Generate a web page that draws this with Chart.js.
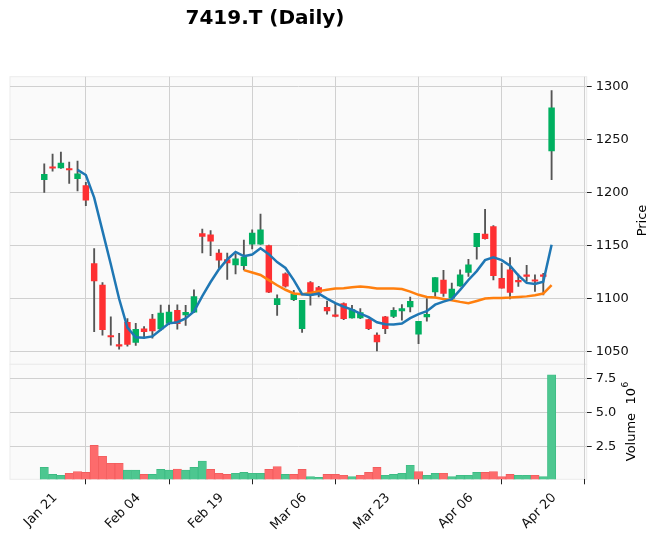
<!DOCTYPE html>
<html>
<head>
<meta charset="utf-8">
<script src="https://cdn.jsdelivr.net/npm/chart.js@4.4.0/dist/chart.umd.min.js"></script>
<style>
  html, body { margin: 0; padding: 0; background: #fff; }
  #wrap { position: relative; width: 660px; height: 543px; }
</style>
</head>
<body>
<div id="wrap"><canvas id="priceChart" width="660" height="543"></canvas></div>
<script>
// 7419.T daily, 62 sessions; x ticks every 10 bars
var tickIndex = [0, 10, 20, 30, 40, 50, 60];
var tickLabels = ['Jan 21', 'Feb 04', 'Feb 19', 'Mar 06', 'Mar 23', 'Apr 06', 'Apr 20'];

var opens = [1212, 1224.1, 1223, 1222.5, 1213, 1206.5, 1133, 1112.6, 1065.1, 1056.5,
  1077.5, 1058.5, 1071.3, 1080.6, 1071.3, 1076.5, 1088.8, 1084.4, 1087.2, 1161.1,
  1160.1, 1142.9, 1136.7, 1131.7, 1131, 1151.1, 1151.1, 1149.8, 1094.1, 1123.2,
  1098.8, 1071.6, 1115, 1110.3, 1091.7, 1084.6, 1095.1, 1081.7, 1081.7, 1080.1,
  1065.4, 1082.6, 1083.2, 1088.2, 1092, 1066.3, 1082.6, 1106.1, 1117.3, 1100.3,
  1111.9, 1124.5, 1148.9, 1160.8, 1167.7, 1119.1, 1127, 1117, 1122.3, 1117.6,
  1122.3, 1239];
var highs = [1227, 1236, 1238, 1228.5, 1229.6, 1209.5, 1147, 1115, 1082.7, 1067.2,
  1081, 1076.5, 1073.5, 1085, 1093.7, 1093.7, 1094, 1093.5, 1108.2, 1165.5,
  1163.9, 1146.1, 1142.9, 1142, 1155.1, 1164.8, 1179.5, 1150.3, 1103.5, 1124.2,
  1107.6, 1098.2, 1116, 1111.5, 1097.6, 1095.1, 1095.8, 1093.6, 1090.4, 1080.5,
  1067.6, 1083.2, 1091.4, 1094.2, 1101.4, 1078.5, 1099.8, 1119.6, 1126.5, 1114.4,
  1127, 1137, 1161.4, 1184, 1168.7, 1133.2, 1138.6, 1122.9, 1131.3, 1122.3,
  1123.8, 1296];
var lows = [1200, 1220, 1222.5, 1208.5, 1201.4, 1187.5, 1068.7, 1065.5, 1056, 1052.2,
  1055, 1055.8, 1062.5, 1062.5, 1070, 1075.3, 1071, 1074.7, 1086.6, 1142.9,
  1140.4, 1128.8, 1117.9, 1123.2, 1127, 1146.7, 1151, 1105.4, 1084.1, 1110.7,
  1098, 1068, 1093.6, 1101.4, 1085.1, 1082.6, 1080.1, 1081.5, 1081, 1070.7,
  1050.6, 1066.9, 1082, 1079.5, 1087.3, 1057.5, 1078.5, 1102, 1102, 1098,
  1111.3, 1120.7, 1137, 1155.8, 1117.6, 1109.7, 1099.7, 1111.3, 1116, 1106.6,
  1103.4, 1212];
var closes = [1217, 1222.8, 1227.5, 1221.1, 1217.5, 1192.7, 1116.6, 1070.5, 1063.7, 1055.1,
  1056.8, 1071, 1068.8, 1069.5, 1086.3, 1087.2, 1076.3, 1086.9, 1101.9, 1158.6,
  1153.9, 1136, 1133.5, 1137.3, 1138.9, 1161.7, 1164.8, 1106, 1099.8, 1111.6,
  1104.4, 1098.2, 1102.8, 1105.8, 1088.2, 1083.2, 1081, 1089.5, 1086.7, 1071.6,
  1059.1, 1071.6, 1088.9, 1090.4, 1097.3, 1078.5, 1085.1, 1119.6, 1104.8, 1108.8,
  1122.3, 1131.7, 1161.4, 1156.4, 1121.6, 1109.7, 1105.6, 1115.6, 1120.9, 1116.2,
  1120.9, 1279.6];
// volume in millions of shares
var volumes = [0.94, 0.42, 0.35, 0.50, 0.64, 0.57, 2.57, 1.76, 1.24, 1.24,
  0.74, 0.74, 0.42, 0.42, 0.79, 0.74, 0.82, 0.74, 0.94, 1.41,
  0.79, 0.50, 0.42, 0.50, 0.57, 0.50, 0.50, 0.79, 1.01, 0.42,
  0.42, 0.79, 0.27, 0.20, 0.42, 0.42, 0.35, 0.27, 0.35, 0.57,
  0.94, 0.35, 0.42, 0.50, 1.09, 0.64, 0.35, 0.50, 0.50, 0.27,
  0.35, 0.35, 0.57, 0.57, 0.64, 0.27, 0.42, 0.35, 0.35, 0.35,
  0.27, 7.80];
var priceTicks = [1050, 1100, 1150, 1200, 1250, 1300];
var volumeTicks = [2.5, 5.0, 7.5];

var UP = '#00b060', DOWN = '#fe3032', WICK = '#555555';
var VOL_UP = '#4dc790', VOL_DOWN = '#fd6b6c';
var FONT = 'DejaVu Sans';

function movingAverage(values, n) {
  var out = [];
  for (var i = n - 1; i < values.length; i++) {
    var sum = 0;
    for (var j = i - n + 1; j <= i; j++) sum += values[j];
    out.push({x: i, y: sum / n});
  }
  return out;
}

var wickData = highs.map(function (h, i) { return {x: i, y: [lows[i], h]}; });
var bodyData = opens.map(function (o, i) { return {x: i, y: [o, closes[i]]}; });
var bodyColors = opens.map(function (o, i) { return closes[i] >= o ? UP : DOWN; });
var volData = volumes.map(function (v, i) { return {x: i, y: v}; });
var volUp = closes.map(function (c, i) { return i === 0 || c >= closes[i - 1]; });
var volColors = volUp.map(function (u) { return u ? VOL_UP : VOL_DOWN; });
var volEdges = volUp.map(function (u) { return u ? '#3dbb83' : '#f25c5d'; });

// panel backgrounds
var panelPlugin = {
  id: 'panels',
  beforeDraw: function (chart) {
    var ctx = chart.ctx, a = chart.chartArea;
    [chart.scales.y, chart.scales.vol].forEach(function (s) {
      ctx.save();
      ctx.fillStyle = '#fafafa';
      ctx.fillRect(a.left, s.top, a.right - a.left, s.bottom - s.top);
      ctx.strokeStyle = '#ebebeb';
      ctx.lineWidth = 1;
      ctx.strokeRect(a.left, s.top, a.right - a.left, s.bottom - s.top);
      ctx.restore();
    });
  }
};

// title and rotated axis labels
var textPlugin = {
  id: 'texts',
  afterDraw: function (chart) {
    var ctx = chart.ctx;
    var ys = chart.scales.y, vs = chart.scales.vol;
    ctx.save();
    ctx.fillStyle = '#000';
    ctx.textAlign = 'center';
    ctx.textBaseline = 'middle';
    ctx.font = 'bold 20px ' + FONT;
    ctx.fillText('7419.T (Daily)', 265, 19);

    ctx.font = '13px ' + FONT;
    ctx.save();
    ctx.translate(642.8, (ys.top + ys.bottom) / 2);
    ctx.rotate(-Math.PI / 2);
    ctx.fillText('Price', 0, 0);
    ctx.restore();

    ctx.save();
    ctx.translate(632, (vs.top + vs.bottom) / 2);
    ctx.rotate(-Math.PI / 2);
    var main = 'Volume  10';
    var w1 = ctx.measureText(main).width;
    ctx.font = '9px ' + FONT;
    var w2 = ctx.measureText('6').width;
    var x0 = -(w1 + w2) / 2;
    ctx.textAlign = 'left';
    ctx.font = '13px ' + FONT;
    ctx.fillText(main, x0, 0);
    ctx.font = '9px ' + FONT;
    ctx.fillText('6', x0 + w1 + 0.5, -6);
    ctx.restore();
    ctx.restore();
  }
};

var ctx = document.getElementById('priceChart');
var myChart = new Chart(ctx, {
  type: 'bar',
  data: {
    datasets: [{
        label: 'Wick',
        data: wickData,
        backgroundColor: WICK,
        barThickness: 1.2,
        grouped: false,
        yAxisID: 'y',
        order: 3
      },
      {
        label: 'Body',
        data: bodyData,
        backgroundColor: bodyColors,
        barThickness: 5.8,
        grouped: false,
        yAxisID: 'y',
        order: 2
      },
      {
        type: 'line',
        label: 'MA5',
        data: movingAverage(closes, 5),
        borderColor: '#1f77b4',
        borderWidth: 2.5,
        pointRadius: 0,
        tension: 0,
        yAxisID: 'y',
        order: 1
      },
      {
        type: 'line',
        label: 'MA25',
        data: movingAverage(closes, 25),
        borderColor: '#ff7f0e',
        borderWidth: 2.5,
        pointRadius: 0,
        tension: 0,
        yAxisID: 'y',
        order: 1
      },
      {
        label: 'Volume',
        data: volData,
        backgroundColor: volColors,
        borderColor: volEdges,
        borderWidth: 0.8,
        barThickness: 8.3,
        grouped: false,
        yAxisID: 'vol',
        order: 4
      }
    ]
  },
  options: {
    responsive: false,
    animation: false,
    layout: {padding: {left: 10, top: 76.7, right: 0, bottom: 0}},
    scales: {
      x: {
        type: 'linear',
        min: -4.12,
        max: 65.22,
        offset: false,
        border: {display: false},
        grid: {color: '#d0d0d0', tickColor: '#222', tickLength: 5},
        afterBuildTicks: function (scale) {
          scale.ticks = tickIndex.map(function (v) { return {value: v}; });
        },
        afterFit: function (scale) { scale.height = 63.7; },
        ticks: {
          autoSkip: false,
          maxRotation: 45,
          minRotation: 45,
          padding: 6,
          labelOffset: 11,
          color: '#111',
          font: {family: FONT, size: 13},
          callback: function (v) { return tickLabels[tickIndex.indexOf(v)]; }
        }
      },
      y: {
        type: 'linear',
        position: 'right',
        stack: 'panels',
        stackWeight: 5,
        min: 1038,
        max: 1309,
        border: {display: false},
        grid: {color: '#d0d0d0', tickColor: '#222', tickLength: 5},
        afterBuildTicks: function (scale) {
          scale.ticks = priceTicks.map(function (v) { return {value: v}; });
        },
        afterFit: function (scale) { scale.width = 73.3; },
        ticks: {
          padding: 4,
          color: '#111',
          font: {family: FONT, size: 13},
          callback: function (v) { return String(v); }
        }
      },
      vol: {
        type: 'linear',
        position: 'right',
        stack: 'panels',
        stackWeight: 2,
        min: 0.06,
        max: 8.58,
        border: {display: false},
        grid: {color: '#d0d0d0', tickColor: '#222', tickLength: 5},
        afterBuildTicks: function (scale) {
          scale.ticks = volumeTicks.map(function (v) { return {value: v}; });
        },
        afterFit: function (scale) { scale.width = 73.3; },
        ticks: {
          padding: 4,
          color: '#111',
          font: {family: FONT, size: 13},
          callback: function (v) { return v.toFixed(1); }
        }
      }
    },
    plugins: {
      legend: {display: false},
      tooltip: {enabled: false}
    }
  },
  plugins: [panelPlugin, textPlugin]
});
</script>
</body>
</html>
